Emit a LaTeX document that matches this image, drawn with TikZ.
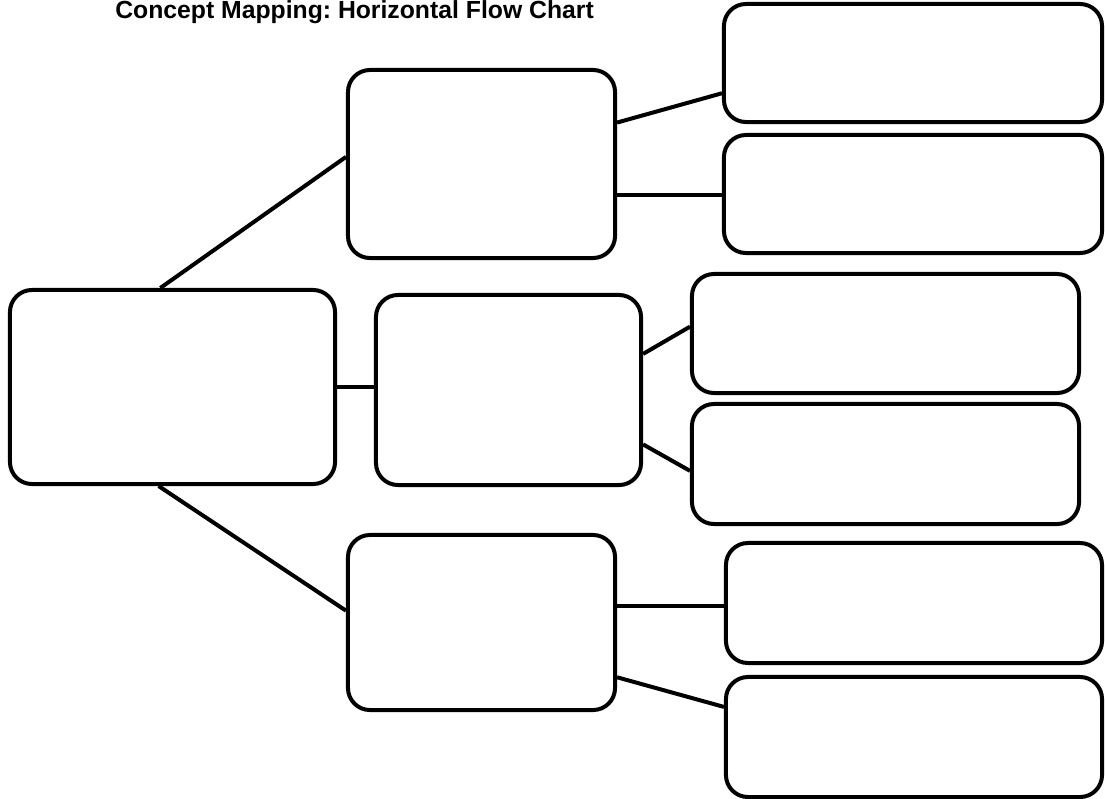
\documentclass[tikz,border=0pt]{standalone}
\usepackage{fontspec}
\setmainfont{Liberation Sans}
\frenchspacing
\begin{document}
\begin{tikzpicture}[x=0.025cm,y=-0.025cm,
	cbox/.style={draw, line width=0.1cm, rounded corners=0.55cm, inner sep=0pt},
	link/.style={line width=0.1cm}]
	\useasboundingbox (0,0) rectangle (1105,798);
	\node[anchor=base west, inner sep=0pt, font=\bfseries\fontsize{17.6}{20}\selectfont] (title) at (115,18.5) {Concept Mapping: Horizontal Flow Chart};
	% main concept and its three branches
	\node[cbox, minimum width=8.125cm, minimum height=4.85cm] (root) at (172.5,387) {};
	\node[cbox, minimum width=6.675cm, minimum height=4.7cm] (midA) at (481.5,164) {};
	\node[cbox, minimum width=6.625cm, minimum height=4.75cm] (midB) at (508.5,390) {};
	\node[cbox, minimum width=6.675cm, minimum height=4.375cm] (midC) at (481.5,622.5) {};
	% details on the right
	\node[cbox, minimum width=9.45cm, minimum height=2.95cm] (leafA) at (913,63) {};
	\node[cbox, minimum width=9.45cm, minimum height=2.95cm] (leafB) at (913,194) {};
	\node[cbox, minimum width=9.675cm, minimum height=2.975cm] (leafC) at (885.5,333.5) {};
	\node[cbox, minimum width=9.675cm, minimum height=3cm] (leafD) at (885.5,464) {};
	\node[cbox, minimum width=9.4cm, minimum height=3cm] (leafE) at (914,603) {};
	\node[cbox, minimum width=9.4cm, minimum height=3cm] (leafF) at (914,737) {};
	% links
	\draw[link] (root.97.3) -- (midA.177);
	\draw[link] (root.east) -- (root.east -| midB.west);
	\draw[link] (root.262.7) -- (midC.175.5);
	\draw[link] (midA.17) -- (leafA.189);
	\draw[link] (midA.-13) -- (midA.-13 -| leafB.west);
	\draw[link] (midB.15) -- (leafC.178);
	\draw[link] (midB.-22.5) -- (leafD.182);
	\draw[link] (midC.7.5) -- (midC.7.5 -| leafE.west);
	\draw[link] (midC.-22.6) -- (leafF.171);
\end{tikzpicture}
\end{document}
